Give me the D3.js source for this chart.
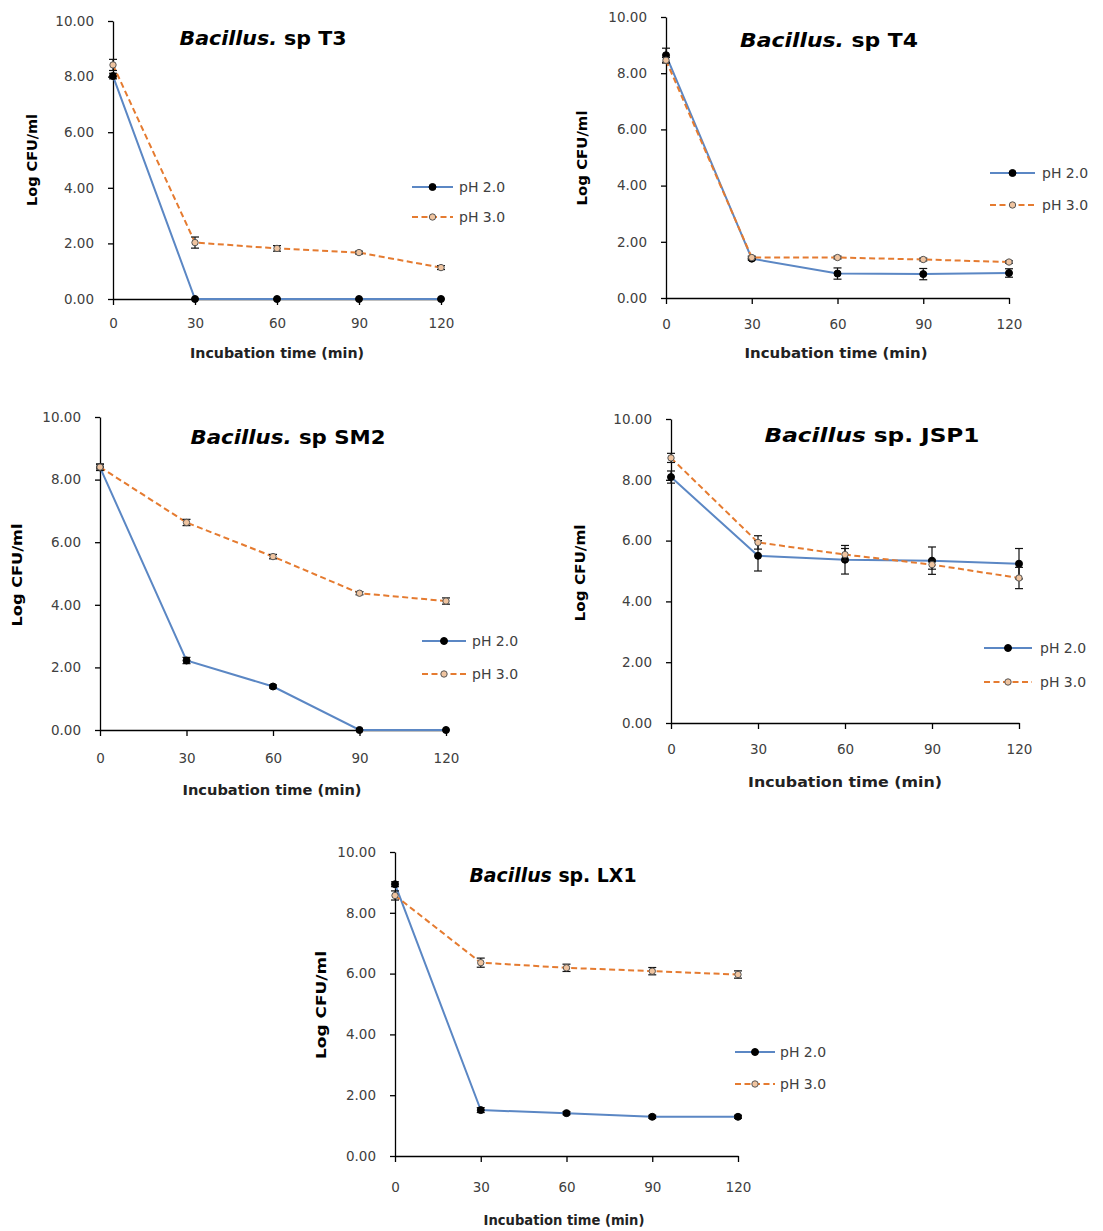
<!DOCTYPE html>
<html>
<head>
<meta charset="utf-8">
<script src="https://cdn.jsdelivr.net/npm/d3@7"></script>
<style>
  body { margin: 0; background: #fff; }
  text { font-family: "DejaVu Sans", "Noto Sans", sans-serif; }
</style>
</head>
<body>
<div id="chart"></div>
<script>
// incubation times and axis ticks
const times = [0, 30, 60, 90, 120];
const yTickValues = [0, 2, 4, 6, 8, 10];
const seriesNames = ["pH 2.0", "pH 3.0"];

// Bacillus. sp T3
const t3Ph2 = [8.02, 0, 0, 0, 0];
const t3Ph2Err = [0.1, 0, 0, 0, 0];
const t3Ph3 = [8.42, 2.03, 1.82, 1.67, 1.13];
const t3Ph3Err = [0.2, 0.2, 0.1, 0.05, 0.07];

// Bacillus. sp T4
const t4Ph2 = [8.64, 1.40, 0.87, 0.85, 0.89];
const t4Ph2Err = [0.25, 0.05, 0.2, 0.2, 0.15];
const t4Ph3 = [8.46, 1.44, 1.44, 1.37, 1.28];
const t4Ph3Err = [0.1, 0.05, 0.05, 0.05, 0.04];

// Bacillus. sp SM2
const sm2Ph2 = [8.39, 2.22, 1.39, 0, 0];
const sm2Ph2Err = [0.1, 0.1, 0.05, 0, 0];
const sm2Ph3 = [8.40, 6.63, 5.54, 4.37, 4.12];
const sm2Ph3Err = [0.1, 0.1, 0.07, 0.05, 0.1];

// Bacillus sp. JSP1
const jspPh2 = [8.09, 5.50, 5.37, 5.34, 5.24];
const jspPh2Err = [0.2, 0.5, 0.47, 0.45, 0.5];
const jspPh3 = [8.72, 5.94, 5.54, 5.21, 4.77];
const jspPh3Err = [0.15, 0.22, 0.2, 0.15, 0.35];

// Bacillus sp. LX1
const lx1Ph2 = [8.94, 1.51, 1.41, 1.29, 1.29];
const lx1Ph2Err = [0.08, 0.08, 0.05, 0.05, 0.05];
const lx1Ph3 = [8.57, 6.36, 6.19, 6.08, 5.97];
const lx1Ph3Err = [0.15, 0.15, 0.12, 0.12, 0.12];

const BLUE = "#5b87c4";
const ORANGE = "#e57b30";

let svg = d3.select("#chart").append("svg")
    .attr("width", 1103)
    .attr("height", 1231);
svg.append("rect").attr("width", 1103).attr("height", 1231).attr("fill", "#fff");

// panel layouts (positions only)
const panels = [
    {italic: "Bacillus.", rest: " sp T3", ph2: t3Ph2, ph2Err: t3Ph2Err, ph3: t3Ph3, ph3Err: t3Ph3Err,
     left: 113, right: 441, top: 21, bottom: 299, titleX: 263, titleY: 38, titleLen: 167,
     yTitleX: 32, yTitleY: 160, yTitleLen: 92,
     xTickY: 323, xTitleX: 277, xTitleY: 353, xTitleLen: 174,
     legX1: 412, legX2: 453, legTextX: 459, legY: [187, 217]},
    {italic: "Bacillus.", rest: " sp T4", ph2: t4Ph2, ph2Err: t4Ph2Err, ph3: t4Ph3, ph3Err: t4Ph3Err,
     left: 666, right: 1009, top: 17, bottom: 298, titleX: 829, titleY: 40, titleLen: 178,
     yTitleX: 582, yTitleY: 158, yTitleLen: 95,
     xTickY: 324, xTitleX: 836, xTitleY: 353, xTitleLen: 183,
     legX1: 990, legX2: 1035, legTextX: 1042, legY: [173, 205]},
    {italic: "Bacillus.", rest: " sp SM2", ph2: sm2Ph2, ph2Err: sm2Ph2Err, ph3: sm2Ph3, ph3Err: sm2Ph3Err,
     left: 100, right: 446, top: 417, bottom: 730, titleX: 288, titleY: 437, titleLen: 195,
     yTitleX: 17, yTitleY: 575, yTitleLen: 103,
     xTickY: 758, xTitleX: 272, xTitleY: 790, xTitleLen: 179,
     legX1: 422, legX2: 466, legTextX: 472, legY: [641, 674]},
    {italic: "Bacillus", rest: " sp. JSP1", ph2: jspPh2, ph2Err: jspPh2Err, ph3: jspPh3, ph3Err: jspPh3Err,
     left: 671, right: 1019, top: 419, bottom: 723, titleX: 872, titleY: 435, titleLen: 215,
     yTitleX: 580, yTitleY: 573, yTitleLen: 97,
     xTickY: 749, xTitleX: 845, xTitleY: 782, xTitleLen: 194,
     legX1: 984, legX2: 1032, legTextX: 1040, legY: [648, 682]},
    {italic: "Bacillus", rest: " sp. LX1", ph2: lx1Ph2, ph2Err: lx1Ph2Err, ph3: lx1Ph3, ph3Err: lx1Ph3Err,
     left: 395, right: 738, top: 852, bottom: 1156, titleX: 553, titleY: 875, titleLen: 167,
     yTitleX: 321, yTitleY: 1005, yTitleLen: 108,
     xTickY: 1187, xTitleX: 564, xTitleY: 1220, xTitleLen: 161,
     legX1: 735, legX2: 775, legTextX: 780, legY: [1052, 1084]}
];

function drawPanel(p) {
    let x = d3.scaleLinear().domain([0, 120]).range([p.left, p.right]);
    let y = d3.scaleLinear().domain([0, 10]).range([p.bottom, p.top]);
    let g = svg.append("g");

    // axes
    let yAxisEL = g.append("g")
        .attr("transform", "translate(" + p.left + ",0)")
        .call(d3.axisLeft(y).tickValues(yTickValues).tickFormat(d3.format(".2f")).tickSize(5).tickPadding(14).tickSizeOuter(0));
    yAxisEL.selectAll("text").style("font-size", "13.5px").style("font-family", "DejaVu Sans").attr("fill", "#404040");

    let xAxisEL = g.append("g")
        .attr("transform", "translate(0," + p.bottom + ")")
        .call(d3.axisBottom(x).tickValues(times).tickFormat(d3.format("d")).tickSize(6).tickSizeOuter(0));
    xAxisEL.selectAll("text").style("font-size", "13.5px").style("font-family", "DejaVu Sans").attr("fill", "#404040")
        .attr("y", p.xTickY - p.bottom).attr("dy", "0.35em");
    g.selectAll(".domain, .tick line").attr("stroke", "#000").attr("stroke-width", 1.3);

    // titles
    let title = g.append("text")
        .attr("x", p.titleX).attr("y", p.titleY).attr("dy", "0.35em")
        .attr("text-anchor", "middle")
        .attr("textLength", p.titleLen).attr("lengthAdjust", "spacingAndGlyphs")
        .style("font-size", "20px").style("font-weight", "bold");
    title.append("tspan").style("font-style", "italic").text(p.italic);
    title.append("tspan").text(p.rest);

    g.append("text")
        .attr("transform", "translate(" + p.yTitleX + "," + p.yTitleY + ") rotate(-90)")
        .attr("text-anchor", "middle").attr("dy", "0.35em")
        .attr("textLength", p.yTitleLen).attr("lengthAdjust", "spacingAndGlyphs")
        .style("font-size", "14px").style("font-weight", "bold")
        .text("Log CFU/ml");

    g.append("text")
        .attr("x", p.xTitleX).attr("y", p.xTitleY).attr("dy", "0.35em")
        .attr("text-anchor", "middle")
        .attr("textLength", p.xTitleLen).attr("lengthAdjust", "spacingAndGlyphs")
        .style("font-size", "14px").style("font-weight", "bold").attr("fill", "#222")
        .text("Incubation time (min)");

    let series = [
        {vals: p.ph2, errs: p.ph2Err, color: BLUE, dash: null, fill: "#000", stroke: "#000", r: 3.5},
        {vals: p.ph3, errs: p.ph3Err, color: ORANGE, dash: "6,3.5", fill: "#efc4a0", stroke: "#555", r: 3.2}
    ];

    let line = d3.line().x(function (d) { return x(d.t); }).y(function (d) { return y(d.v); });

    series.forEach(function (s, si) {
        let data = times.map(function (t, i) { return {t: t, v: s.vals[i], e: s.errs[i]}; });

        g.append("path").datum(data)
            .attr("d", line)
            .attr("fill", "none")
            .attr("stroke", s.color)
            .attr("stroke-width", 2)
            .attr("stroke-dasharray", s.dash);

        // error bars
        let eb = g.selectAll(".eb" + si).data(data.filter(function (d) { return d.e > 0; })).enter().append("g");
        eb.append("line")
            .attr("x1", function (d) { return x(d.t); }).attr("x2", function (d) { return x(d.t); })
            .attr("y1", function (d) { return y(d.v - d.e); }).attr("y2", function (d) { return y(d.v + d.e); })
            .attr("stroke", "#111").attr("stroke-width", 1.2);
        [-1, 1].forEach(function (k) {
            eb.append("line")
                .attr("x1", function (d) { return x(d.t) - 4; }).attr("x2", function (d) { return x(d.t) + 4; })
                .attr("y1", function (d) { return y(d.v + k * d.e); }).attr("y2", function (d) { return y(d.v + k * d.e); })
                .attr("stroke", "#111").attr("stroke-width", 1.2);
        });

        g.selectAll(".pt" + si).data(data).enter().append("circle")
            .attr("cx", function (d) { return x(d.t); })
            .attr("cy", function (d) { return y(d.v); })
            .attr("r", s.r)
            .attr("fill", s.fill)
            .attr("stroke", s.stroke)
            .attr("stroke-width", 1);

        // legend
        let ly = p.legY[si];
        g.append("line")
            .attr("x1", p.legX1).attr("x2", p.legX2).attr("y1", ly).attr("y2", ly)
            .attr("stroke", s.color).attr("stroke-width", 2).attr("stroke-dasharray", s.dash);
        g.append("circle")
            .attr("cx", (p.legX1 + p.legX2) / 2).attr("cy", ly)
            .attr("r", s.r)
            .attr("fill", s.fill).attr("stroke", s.stroke).attr("stroke-width", 1);
        g.append("text")
            .attr("x", p.legTextX).attr("y", ly).attr("dy", "0.35em")
            .style("font-size", "14px").attr("fill", "#404040")
            .text(seriesNames[si]);
    });
}

panels.forEach(drawPanel);
</script>
</body>
</html>
